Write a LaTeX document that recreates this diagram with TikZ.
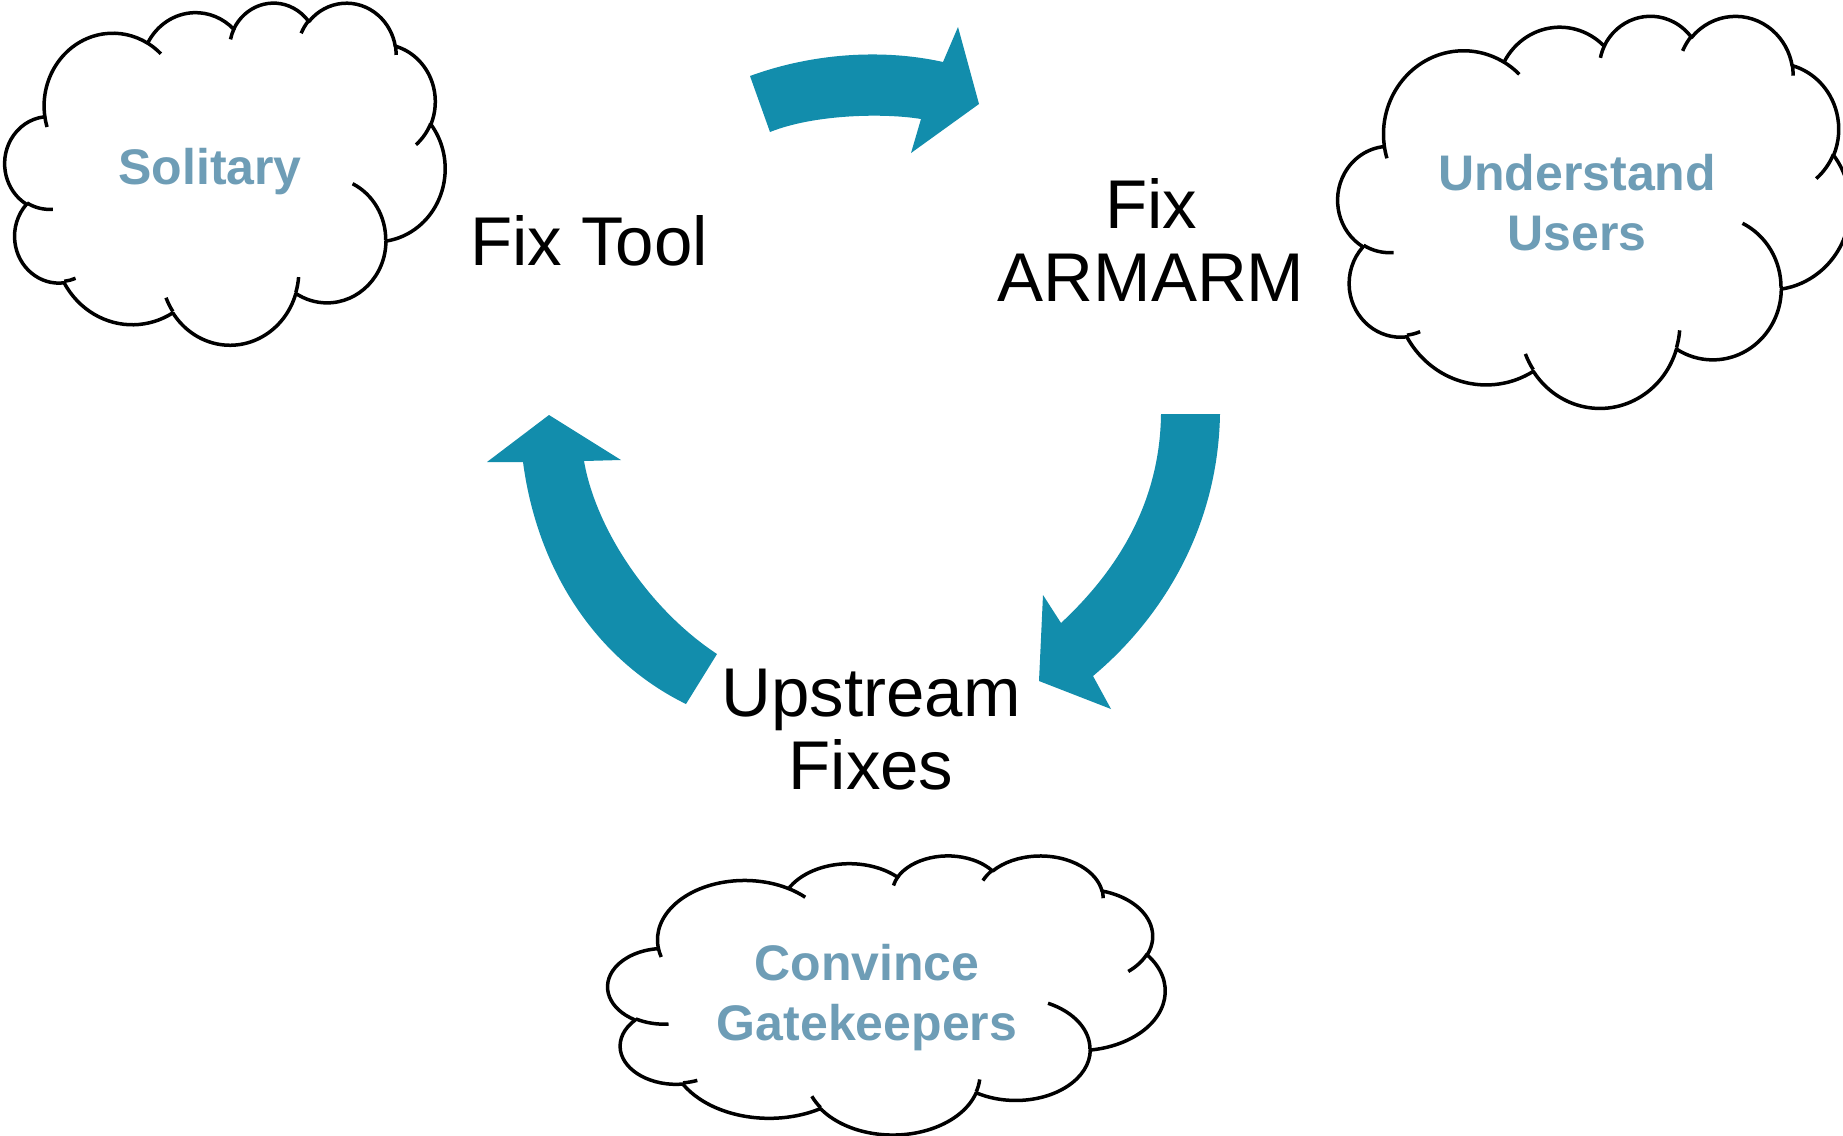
\documentclass[tikz,border=0pt]{standalone}
\usepackage{fontspec}
\setmainfont{Liberation Sans}

\definecolor{cyclefill}{RGB}{18,141,172}
\definecolor{cloudtext}{RGB}{110,157,182}

% Elliptic arc given by radii, visual start angle and sweep (degrees):
% stores the parametric start angle and sweep for TikZ's arc operation.
\newcommand\cloudarcdef[5]{%
  \pgfmathsetmacro\cloudtmpS{atan2((#2)*sin(#4),(#3)*cos(#4))}%
  \pgfmathsetmacro\cloudtmpE{atan2((#2)*sin((#4)+(#5)),(#3)*cos((#4)+(#5)))}%
  \pgfmathsetmacro\cloudtmpD{mod((\cloudtmpE)-(\cloudtmpS)+720,360)}%
  \expandafter\xdef\csname cloudS#1\endcsname{\cloudtmpS}%
  \expandafter\xdef\csname cloudD#1\endcsname{\cloudtmpD}%
}
% outline bumps
\cloudarcdef{A}{6753}{9190}{-190.4875}{123.7805}
\cloudarcdef{B}{5333}{7267}{-144.1024}{89.9452}
\cloudarcdef{C}{4365}{5945}{-145.8079}{99.7230}
\cloudarcdef{D}{4857}{6595}{-130.9861}{117.2417}
\cloudarcdef{E}{5333}{7273}{-78.7089}{109.0269}
\cloudarcdef{F}{6775}{9220}{-46.2673}{130.2690}
\cloudarcdef{G}{5785}{7867}{0.6250}{114.0333}
\cloudarcdef{H}{6752}{9215}{22.4516}{115.1726}
\cloudarcdef{I}{7720}{10543}{66.2426}{75.7110}
\cloudarcdef{J}{4360}{5918}{-274.9421}{146.7356}
\cloudarcdef{K}{4345}{5945}{-246.8285}{152.5189}
% inner hooks
\cloudarcdef{a}{4345}{5945}{86.7420}{26.4295}
\cloudarcdef{b}{4360}{5918}{73.6105}{11.4475}
\cloudarcdef{c}{6752}{9215}{137.6242}{14.0811}
\cloudarcdef{d}{6752}{9215}{6.4533}{15.9984}
\cloudarcdef{e}{5785}{7867}{-70.2924}{70.9174}
\cloudarcdef{f}{5333}{7273}{30.3180}{27.7515}
\cloudarcdef{g}{4857}{6595}{-13.7443}{14.8589}
\cloudarcdef{h}{4857}{6595}{-149.1815}{18.1954}
\cloudarcdef{i}{4365}{5945}{-163.4943}{17.6864}
\cloudarcdef{j}{6753}{9190}{-66.7070}{12.3194}
\cloudarcdef{k}{6753}{9190}{157.6544}{11.8582}

\tikzset{
  cloudline/.style={draw=black, line width=3.5pt, line join=round},
  cyclearrow/.style={fill=cyclefill, draw=none},
  stage/.style={font=\fontsize{69}{73}\selectfont, align=center,
    inner sep=0pt, anchor=base, text=black},
  cloudlabel/.style={font=\bfseries\fontsize{50}{60}\selectfont, align=center,
    inner sep=0pt, anchor=base, text=cloudtext},
  % cloud outline in a 100 x 100 box, y pointing down
  pics/cloudshape/.style={code={
    \path[cloudline, fill=white] (9.028,33.264)
      arc[x radius=15.632, y radius=21.273, start angle=\cloudSA, delta angle=\cloudDA]
      arc[x radius=12.345, y radius=16.822, start angle=\cloudSB, delta angle=\cloudDB]
      arc[x radius=10.104, y radius=13.762, start angle=\cloudSC, delta angle=\cloudDC]
      arc[x radius=11.243, y radius=15.266, start angle=\cloudSD, delta angle=\cloudDD]
      arc[x radius=12.345, y radius=16.836, start angle=\cloudSE, delta angle=\cloudDE]
      arc[x radius=15.683, y radius=21.343, start angle=\cloudSF, delta angle=\cloudDF]
      arc[x radius=13.391, y radius=18.211, start angle=\cloudSG, delta angle=\cloudDG]
      arc[x radius=15.630, y radius=21.331, start angle=\cloudSH, delta angle=\cloudDH]
      arc[x radius=17.870, y radius=24.405, start angle=\cloudSI, delta angle=\cloudDI]
      arc[x radius=10.093, y radius=13.699, start angle=\cloudSJ, delta angle=\cloudDJ]
      arc[x radius=10.058, y radius=13.762, start angle=\cloudSK, delta angle=\cloudDK]
      -- cycle;
    \path[cloudline, line cap=butt]
      (10.863,60.595) arc[x radius=10.058, y radius=13.762, start angle=\cloudSa, delta angle=\cloudDa]
      (16.037,80.785) arc[x radius=10.093, y radius=13.699, start angle=\cloudSb, delta angle=\cloudDb]
      (38.144,90.486) arc[x radius=15.630, y radius=21.331, start angle=\cloudSc, delta angle=\cloudDc]
      (66.729,80.442) arc[x radius=15.630, y radius=21.331, start angle=\cloudSd, delta angle=\cloudDd]
      (79.002,53.134) arc[x radius=13.391, y radius=18.211, start angle=\cloudSe, delta angle=\cloudDe]
      (96.755,35.542) arc[x radius=12.345, y radius=16.836, start angle=\cloudSf, delta angle=\cloudDf]
      (88.713,12.560) arc[x radius=11.243, y radius=15.266, start angle=\cloudSg, delta angle=\cloudDg]
      (67.310,9.148)  arc[x radius=11.243, y radius=15.266, start angle=\cloudSh, delta angle=\cloudDh]
      (51.252,10.926) arc[x radius=10.104, y radius=13.762, start angle=\cloudSi, delta angle=\cloudDi]
      (32.407,12.019) arc[x radius=15.632, y radius=21.273, start angle=\cloudSj, delta angle=\cloudDj]
      (9.553,36.549)  arc[x radius=15.632, y radius=21.273, start angle=\cloudSk, delta angle=\cloudDk];
  }}
}

\begin{document}
\begin{tikzpicture}[x=1pt, y=-1pt]
  \useasboundingbox (0,0) rectangle (1843,1135);
  \clip (0,0) rectangle (1843,1135);
  \fill[white] (0,0) rectangle (1843,1135);

  % clouds
  \begin{scope}[shift={(5,2)}, x=1pt, y=1pt, xscale=4.40, yscale=-3.42]
    \pic[transform shape] (solitarycloud) {cloudshape};
  \end{scope}
  \begin{scope}[shift={(1338,15)}, x=1pt, y=1pt, xscale=5.12, yscale=-3.92]
    \pic[transform shape] (userscloud) {cloudshape};
  \end{scope}
  \begin{scope}[shift={(608,855)}, x=1pt, y=1pt, xscale=5.57, yscale=-2.79]
    \pic[transform shape] (gatecloud) {cloudshape};
  \end{scope}

  % multi-line labels are placed by the baseline of their last line
  \node[cloudlabel] (solitary) at (210,184) {Solitary};
  \node[cloudlabel] (users) at (1577,250) {Understand\\Users};
  \node[cloudlabel] (gatekeepers) at (867,1040) {Convince\\Gatekeepers};

  % stages of the cycle
  \node[stage] (fixtool) at (589,265) {Fix Tool};
  \node[stage] (fixarm) at (1151,301) {Fix\\ARMARM};
  \node[stage] (upstream) at (871,789) {Upstream\\Fixes};

  % curved block arrows of the cycle
  \path[cyclearrow] (750,76) .. controls (810,54) and (880,48) .. (943,62)
    -- (958,27) -- (979,104) -- (911,153) -- (921,119)
    .. controls (885,113) and (815,114) .. (770,132) -- cycle;
  \path[cyclearrow] (1161,414) -- (1220,414)
    .. controls (1218,530) and (1160,620) .. (1093,676)
    -- (1111,709) -- (1039,681) -- (1043,595) -- (1061,623)
    .. controls (1120,568) and (1160,500) .. (1161,414) -- cycle;
  \path[cyclearrow] (686,704) -- (717,654)
    .. controls (650,610) and (596,530) .. (584,461)
    -- (621,460) -- (549,415) -- (487,462) -- (523,462)
    .. controls (538,575) and (600,662) .. (686,704) -- cycle;
\end{tikzpicture}
\end{document}
